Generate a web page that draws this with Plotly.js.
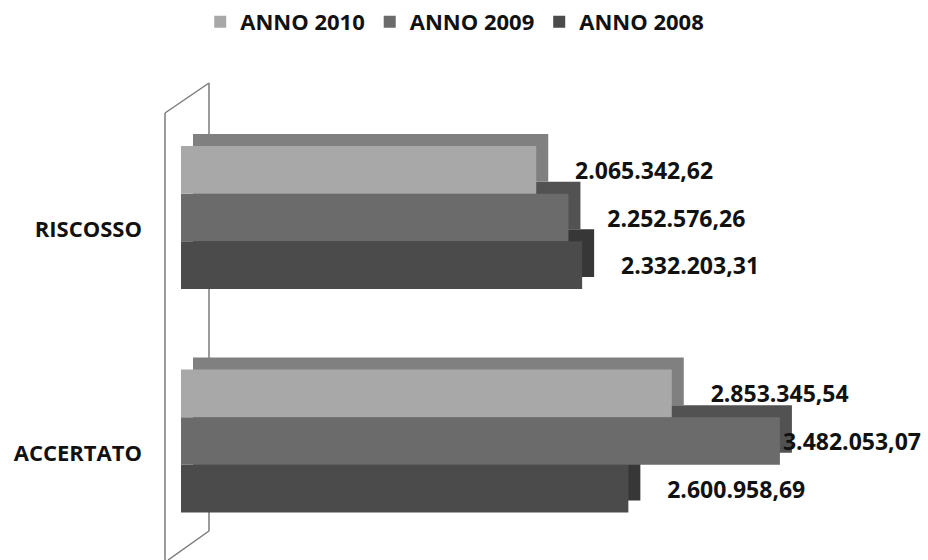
<!DOCTYPE html>
<html>
<head>
<meta charset="utf-8">
<script src="https://cdn.plot.ly/plotly-3.0.1.min.js"></script>
<style>
  html, body { margin: 0; padding: 0; background: #ffffff; }
  #chart { width: 928px; height: 560px; }
</style>
</head>
<body>
<div id="chart"></div>
<script>
// Categories (bottom to top) and yearly amounts in euro
const categories = ['ACCERTATO', 'RISCOSSO'];
const anno2010 = [2853345.54, 2065342.62];
const anno2009 = [3482053.07, 2252576.26];
const anno2008 = [2600958.69, 2332203.31];
const seriesNames = ['ANNO 2008', 'ANNO 2009', 'ANNO 2010'];

// Canvas helpers (pixel -> paper fraction)
const W = 928, H = 560;
const px = v => v / W;
const py = v => 1 - v / H;

// Front faces and extruded "depth" faces of the 3D bars
const frontColors = ['#4b4b4b', '#6b6b6b', '#a8a8a8'];
const depthColors = ['#373737', '#525252', '#808080'];
const seriesValues = [anno2008, anno2009, anno2010];
const xMax = 4000000;
const pad = '\u00a0\u00a0\u00a0\u00a0\u00a0\u00a0';

const font = { family: 'Open Sans, Noto Sans, sans-serif', size: 22, color: '#111111', weight: 'bold' };
const labelFont = Object.assign({}, font, { size: 23 });

const traces = [];
// depth blocks, drawn on the rear subplot (shifted up and right)
seriesValues.forEach((vals, i) => {
  traces.push({
    type: 'bar', orientation: 'h',
    x: vals, y: categories,
    xaxis: 'x', yaxis: 'y',
    marker: { color: depthColors[i], line: { width: 0 } },
    showlegend: false, hoverinfo: 'skip'
  });
});
// front faces with value labels
seriesValues.forEach((vals, i) => {
  traces.push({
    type: 'bar', orientation: 'h',
    name: seriesNames[i],
    x: vals, y: categories,
    xaxis: 'x2', yaxis: 'y2',
    marker: { color: frontColors[i], line: { width: 0 } },
    texttemplate: vals.map(v => (v > 0.85 * xMax ? '' : pad) + '%{x:,.2f}'),
    textposition: 'outside',
    constraintext: 'none',
    cliponaxis: false,
    outsidetextfont: labelFont
  });
});

// 3D side wall outline
const wall = [
  [[165, 113], [165, 560]],
  [[165, 113], [209, 83]],
  [[209, 83], [209, 531]],
  [[209, 531], [168, 560]]
].map(seg => ({
  type: 'line', xref: 'paper', yref: 'paper', layer: 'below',
  x0: px(seg[0][0]), y0: py(seg[0][1]), x1: px(seg[1][0]), y1: py(seg[1][1]),
  line: { color: '#7a7a7a', width: 1.5 }
}));

const dx = 12, dy = 12;
const layout = {
  width: W, height: H,
  margin: { l: 0, r: 0, t: 0, b: 0 },
  paper_bgcolor: '#ffffff', plot_bgcolor: 'rgba(0,0,0,0)',
  separators: ',.',
  barmode: 'group', bargap: 0.36, bargroupgap: 0,
  font: font,
  showlegend: true,
  legend: {
    orientation: 'h', traceorder: 'reversed',
    x: 0.49, xanchor: 'center', y: py(22), yanchor: 'middle',
    font: font, bgcolor: 'rgba(0,0,0,0)'
  },
  xaxis: { domain: [px(181 + dx), px(869 + dx)], range: [0, xMax], visible: false, fixedrange: true },
  yaxis: { type: 'category', domain: [py(552.75) + dy / H, py(105.75) + dy / H], range: [-0.5, 1.5], visible: false, anchor: 'x', fixedrange: true },
  xaxis2: { domain: [px(181), px(869)], range: [0, xMax], visible: false, anchor: 'y2', fixedrange: true },
  yaxis2: {
    domain: [py(552.75), py(105.75)], range: [-0.5, 1.5], anchor: 'x2',
    type: 'category', showgrid: false, zeroline: false, showline: false, ticks: '',
    tickfont: font, ticklabelstandoff: 38, ticklabelshift: 12, fixedrange: true
  },
  shapes: wall
};

Plotly.newPlot('chart', traces, layout, { displayModeBar: false, staticPlot: true });
</script>
</body>
</html>
